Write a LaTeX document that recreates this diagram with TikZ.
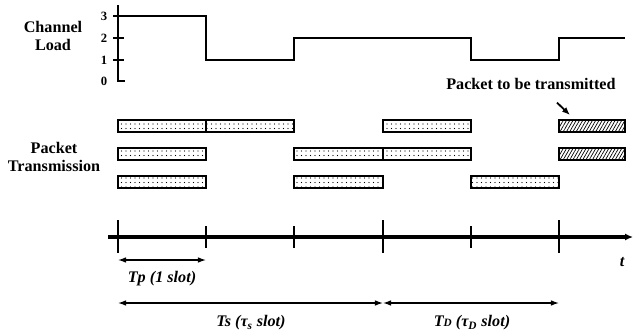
\documentclass[tikz,border=0pt]{standalone}
\usepackage{fontspec}
\setmainfont{Liberation Serif}
\usetikzlibrary{arrows.meta, calc, patterns.meta}

\begin{document}
\begin{tikzpicture}[x=0.025cm, y=-0.025cm,
    lbl/.style={font=\fontsize{11.5}{13}\selectfont\bfseries, align=center},
    num/.style={font=\fontsize{9}{10}\selectfont\bfseries},
    dimlbl/.style={font=\fontsize{11.5}{13}\selectfont\bfseries\itshape},
    load/.style={line width=1.5pt},
    pkt/.style={draw, line width=0.9pt, pattern={Dots[distance=3.2pt, radius=0.4pt]}},
    newpkt/.style={draw, line width=0.9pt, pattern={Lines[angle=60, distance=2pt, line width=0.5pt]}},
    tline/.style={line width=2.2pt, -{Latex[length=2mm, width=1.8mm]}},
    tick/.style={line width=1pt},
    dim/.style={line width=0.9pt, {Latex[length=2mm, width=1.4mm]}-{Latex[length=2mm, width=1.4mm]}},
    edg/.style={line width=1.3pt, -{Latex[length=2mm, width=1.6mm]}}]
    \useasboundingbox (0,0) rectangle (634,331);
    % channel load
    \node[lbl] (chload) at (53,36) {Channel\\Load};
    \draw[tick] (118,5) -- (118,82);
    \foreach \v/\h in {3/16, 2/38, 1/60} {
      \draw[tick] (113,\h) -- (124,\h);
      \node[num] (n\v) at (104,\h) {\v};
    }
    \draw[tick] (118,81) -- (125,81);
    \node[num] (n0) at (104,81) {0};
    \draw[load] (118,16) -- (206,16) -- (206,60) -- (294,60) -- (294,38) -- (471,38)
      -- (471,60) -- (559,60) -- (559,38) -- (625,38);
    % packets
    \node[lbl] (pkttx) at (54,157) {Packet\\Transmission};
    \foreach \a/\b/\r in {118/206/120, 206/294/120, 383/471/120,
                          118/206/148, 294/383/148, 383/471/148,
                          118/206/176, 294/383/176, 471/559/176}
      \draw[pkt] (\a,\r) rectangle (\b,\r+12);
    \draw[newpkt] (559,120) rectangle (625,132);
    \draw[newpkt] (559,148) rectangle (625,160);
    \node[lbl] (ptx) at (531,84) {Packet to be transmitted};
    \coordinate (new1) at (570,115);
    \draw[edg] ([shift={(26,8)}]ptx.south) -- (new1);
    % time axis
    \foreach \i/\x in {0/118, 1/206, 2/294, 3/383, 4/471, 5/559}
      \coordinate (s\i) at (\x,237);
    \draw[tline] (108,237) -- (633,237);
    \foreach \i in {0,3,5}
      \draw[tick] ($(s\i)+(0,-17)$) -- ($(s\i)+(0,16)$);
    \foreach \i in {1,2,4}
      \draw[tick] ($(s\i)+(0,-11)$) -- ($(s\i)+(0,11)$);
    \node[dimlbl] (t) at (622,262) {t};
    % durations
    \draw[dim] ($(s0)+(0,23)$) -- ($(s1)+(0,23)$);
    \node[dimlbl] (tp) at (162,279) {Tp (1 slot)};
    \draw[dim] ($(s0)+(0,66)$) -- ($(s3)+(0,66)$);
    \draw[dim] ($(s3)+(0,66)$) -- ($(s5)+(0,66)$);
    \node[dimlbl] (ts) at (251,323) {Ts (τ\textsubscript{s} slot)};
    \node[dimlbl] (td) at (472,323) {T{\fontsize{8}{8}\selectfont D} (τ\textsubscript{D} slot)};
  \end{tikzpicture}
\end{document}
